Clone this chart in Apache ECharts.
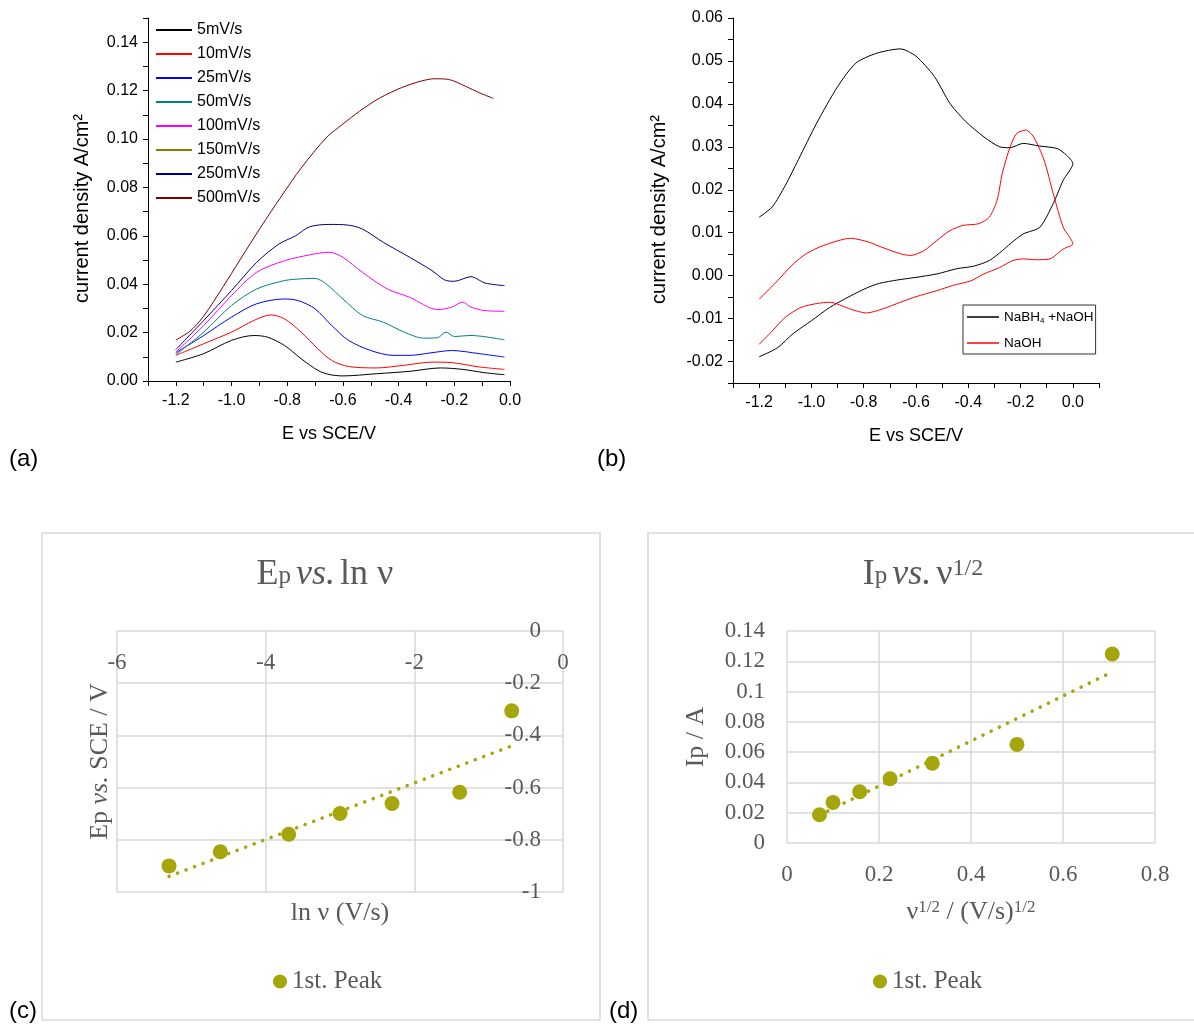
<!DOCTYPE html>
<html>
<head>
<meta charset="utf-8">
<script src="https://cdn.jsdelivr.net/npm/echarts@6/dist/echarts.min.js"></script>
<style>
  html, body { margin: 0; padding: 0; background: #fff; }
  #main { width: 1194px; height: 1025px; }
</style>
</head>
<body>
<div id="main"></div>
<script>
// (a) anodic sweeps at different scan rates, [E / V, j / A cm-2]
const cv5 = [[-1.2,0.0078],[-1.10,0.0113],[-1.0,0.0168],[-0.92,0.0188],[-0.87,0.0181],[-0.81,0.0147],[-0.75,0.0092],[-0.69,0.0044],[-0.65,0.0027],[-0.60,0.0021],[-0.48,0.0030],[-0.36,0.0040],[-0.25,0.0054],[-0.17,0.0048],[-0.09,0.0034],[-0.02,0.0026]];
const cv10 = [[-1.2,0.0106],[-1.10,0.0154],[-1.0,0.0202],[-0.92,0.0250],[-0.86,0.0273],[-0.81,0.0257],[-0.75,0.0202],[-0.69,0.0133],[-0.64,0.0085],[-0.58,0.0060],[-0.48,0.0054],[-0.38,0.0065],[-0.28,0.0078],[-0.21,0.0076],[-0.11,0.0058],[-0.02,0.0048]];
const cv25 = [[-1.2,0.0117],[-1.10,0.0188],[-1.0,0.0264],[-0.91,0.0319],[-0.81,0.0339],[-0.76,0.0332],[-0.70,0.0298],[-0.64,0.0229],[-0.58,0.0168],[-0.50,0.0126],[-0.42,0.0106],[-0.36,0.0106],[-0.28,0.0117],[-0.21,0.0126],[-0.11,0.0113],[-0.02,0.0099]];
const cv50 = [[-1.2,0.0109],[-1.10,0.0202],[-1.0,0.0312],[-0.91,0.0380],[-0.81,0.0415],[-0.75,0.0422],[-0.70,0.0424],[-0.66,0.0401],[-0.60,0.0339],[-0.53,0.0271],[-0.455,0.0243],[-0.38,0.0202],[-0.31,0.0177],[-0.26,0.0179],[-0.23,0.0202],[-0.20,0.0184],[-0.14,0.0188],[-0.02,0.0170]];
const cv100 = [[-1.2,0.0120],[-1.10,0.0229],[-1.0,0.0353],[-0.91,0.0449],[-0.81,0.0497],[-0.72,0.0521],[-0.65,0.0532],[-0.60,0.0511],[-0.53,0.0449],[-0.44,0.0380],[-0.36,0.0346],[-0.26,0.0295],[-0.21,0.0305],[-0.17,0.0326],[-0.14,0.0305],[-0.09,0.0291],[-0.02,0.0288]];
const cv150 = [];
const cv250 = [[-1.2,0.0130],[-1.10,0.0250],[-1.0,0.0374],[-0.91,0.0490],[-0.83,0.0566],[-0.77,0.0600],[-0.72,0.0637],[-0.65,0.0647],[-0.58,0.0644],[-0.53,0.0628],[-0.455,0.0573],[-0.36,0.0511],[-0.28,0.0456],[-0.235,0.0418],[-0.20,0.0412],[-0.14,0.0431],[-0.09,0.0405],[-0.02,0.0394]];
const cv500 = [[-1.2,0.0170],[-1.15,0.0205],[-1.10,0.0268],[-1.03,0.0390],[-0.97,0.0500],[-0.895,0.0636],[-0.82,0.0765],[-0.75,0.0880],[-0.66,0.1005],[-0.60,0.1062],[-0.54,0.1115],[-0.47,0.1168],[-0.39,0.1212],[-0.32,0.1239],[-0.27,0.1249],[-0.22,0.1246],[-0.16,0.1218],[-0.11,0.1191],[-0.06,0.1168]];
const rateNames = ['5mV/s','10mV/s','25mV/s','50mV/s','100mV/s','150mV/s','250mV/s','500mV/s'];
const rateColors = ['#000000','#ff0000','#0000ff','#008080','#ff00ff','#808000','#000080','#800000'];
const rateCurves = [cv5, cv10, cv25, cv50, cv100, cv150, cv250, cv500];

// (b) full cycles
const cvNaBH4 = [[-1.2,0.0136],[-1.15,0.0160],[-1.10,0.0210],[-1.05,0.0270],[-0.98,0.0355],[-0.90,0.0440],[-0.83,0.0495],[-0.75,0.0518],[-0.66,0.0528],[-0.60,0.0511],[-0.53,0.0464],[-0.47,0.0401],[-0.41,0.0359],[-0.34,0.0323],[-0.28,0.0300],[-0.24,0.0298],[-0.19,0.0308],[-0.13,0.0302],[-0.06,0.0296],[-0.025,0.0281],[0.0,0.0261],[-0.037,0.0222],[-0.075,0.0168],[-0.126,0.0113],[-0.19,0.0097],[-0.24,0.0074],[-0.27,0.0058],[-0.32,0.0035],[-0.38,0.0022],[-0.445,0.0016],[-0.52,0.0004],[-0.60,-0.0004],[-0.67,-0.0010],[-0.74,-0.0018],[-0.79,-0.0029],[-0.85,-0.0047],[-0.93,-0.0074],[-1.0,-0.0105],[-1.07,-0.0135],[-1.13,-0.0168],[-1.2,-0.0189]];
const cvNaOH = [[-1.2,-0.0055],[-1.13,-0.0012],[-1.07,0.0027],[-1.02,0.0051],[-0.955,0.0070],[-0.85,0.0087],[-0.78,0.0078],[-0.73,0.0066],[-0.66,0.0051],[-0.62,0.0047],[-0.57,0.0058],[-0.52,0.0082],[-0.47,0.0105],[-0.42,0.0117],[-0.36,0.0121],[-0.32,0.0136],[-0.29,0.0175],[-0.27,0.0238],[-0.24,0.0300],[-0.215,0.0331],[-0.18,0.0339],[-0.15,0.0323],[-0.11,0.0269],[-0.075,0.0191],[-0.037,0.0113],[0.0,0.0074],[-0.037,0.0062],[-0.088,0.0039],[-0.14,0.0037],[-0.19,0.0039],[-0.23,0.0035],[-0.28,0.0019],[-0.34,0.0004],[-0.39,-0.0012],[-0.46,-0.0023],[-0.52,-0.0035],[-0.60,-0.0049],[-0.66,-0.0062],[-0.73,-0.0078],[-0.79,-0.0087],[-0.85,-0.0078],[-0.93,-0.0062],[-0.98,-0.0065],[-1.04,-0.0074],[-1.10,-0.0097],[-1.15,-0.0129],[-1.2,-0.0160]];

// (c) Ep vs ln v, (d) Ip vs v^1/2
const lnRate = [-5.30,-4.61,-3.69,-3.00,-2.30,-1.39,-0.69];
const peakPot = [-0.900,-0.846,-0.779,-0.699,-0.661,-0.618,-0.306];
const fitC = [[-5.30,-0.94],[-0.69,-0.44]];
const sqrtRate = [0.0707,0.100,0.158,0.224,0.316,0.500,0.707];
const peakCur = [0.0187,0.0268,0.0338,0.0424,0.0527,0.0651,0.1248];
const fitD = [[0.0707,0.0184],[0.707,0.113]];

// tick positions
const aTicksX = [-1.3,-1.2,-1.1,-1.0,-0.9,-0.8,-0.7,-0.6,-0.5,-0.4,-0.3,-0.2,-0.1,0.0];
const bTicksX = [-1.3,-1.2,-1.1,-1.0,-0.9,-0.8,-0.7,-0.6,-0.5,-0.4,-0.3,-0.2,-0.1,0.0,0.1];
const labelsX = [-1.2,-1.0,-0.8,-0.6,-0.4,-0.2,0.0];
const aLabelsY = [0,0.02,0.04,0.06,0.08,0.10,0.12,0.14];
const aTicksY = [0,0.01,0.02,0.03,0.04,0.05,0.06,0.07,0.08,0.09,0.10,0.11,0.12,0.13,0.14,0.15];
const bLabelsY = [-0.02,-0.01,0,0.01,0.02,0.03,0.04,0.05,0.06];
const bTicksY = [-0.025,-0.02,-0.015,-0.01,-0.005,0,0.005,0.01,0.015,0.02,0.025,0.03,0.035,0.04,0.045,0.05,0.055,0.06];

const sans = 'Liberation Sans, Arial, sans-serif';
const serif = 'Liberation Serif, Times New Roman, serif';
const gray = '#595959';
const olive = '#a5a50c';
const gridGray = '#d9d9d9';

var myChart = echarts.init(document.getElementById('main'));

// Origin style axes for (a) and (b)
function originX(grid, min, max, ticks, name) {
    return {
        gridIndex: grid, type: 'value', min: min, max: max,
        axisLine: { show: true, onZero: false, lineStyle: { color: '#000', width: 1 } },
        axisTick: { show: true, inside: false, length: 5, customValues: ticks, lineStyle: { color: '#000' } },
        axisLabel: { customValues: labelsX, formatter: v => v.toFixed(1), margin: 12, fontSize: 16, color: '#000', fontFamily: sans },
        splitLine: { show: false },
        name: name, nameLocation: 'middle', nameGap: 44,
        nameTextStyle: { fontSize: 18, color: '#000', fontFamily: sans }
    };
}
function originY(grid, min, max, labels, ticks, gap) {
    return {
        gridIndex: grid, type: 'value', min: min, max: max,
        axisLine: { show: true, onZero: false, lineStyle: { color: '#000', width: 1 } },
        axisTick: { show: true, inside: false, length: 5, customValues: ticks, lineStyle: { color: '#000' } },
        axisLabel: { customValues: labels, formatter: v => v.toFixed(2), margin: 10, fontSize: 16, color: '#000', fontFamily: sans },
        splitLine: { show: false },
        name: 'current density A/cm²', nameLocation: 'middle', nameGap: gap,
        nameTextStyle: { fontSize: 20, color: '#000', fontFamily: sans, padding: [0, 18, 0, 0] }
    };
}

const excelRich = {
    n: { fontFamily: serif, fontSize: 26, color: gray, fontWeight: 'normal' },
    i: { fontFamily: serif, fontSize: 26, color: gray, fontWeight: 'normal', fontStyle: 'italic' },
    s: { fontFamily: serif, fontSize: 17, color: gray, fontWeight: 'normal', verticalAlign: 'top' }
};
const titleRich = {
    n: { fontFamily: serif, fontSize: 36, color: gray, fontWeight: 'normal' },
    i: { fontFamily: serif, fontSize: 36, color: gray, fontWeight: 'normal', fontStyle: 'italic' },
    b: { fontFamily: serif, fontSize: 25, color: gray, fontWeight: 'normal', verticalAlign: 'bottom', padding: [0, 0, 4, 0] },
    s: { fontFamily: serif, fontSize: 24, color: gray, fontWeight: 'normal', verticalAlign: 'top' }
};
const excelLabel = { fontFamily: serif, fontSize: 23, color: gray };
const hidden = { show: false };

const series = rateCurves.map((d, i) => ({
    name: rateNames[i], type: 'line', xAxisIndex: 0, yAxisIndex: 0,
    data: d, symbol: 'none', smooth: 0.3,
    lineStyle: { color: rateColors[i], width: 1 }, itemStyle: { color: rateColors[i] }
}));
series.push(
    { name: 'NaBH4 +NaOH', type: 'line', xAxisIndex: 1, yAxisIndex: 1, data: cvNaBH4, symbol: 'none', smooth: 0.25,
      lineStyle: { color: '#000', width: 1 }, itemStyle: { color: '#000' } },
    { name: 'NaOH', type: 'line', xAxisIndex: 1, yAxisIndex: 1, data: cvNaOH, symbol: 'none', smooth: 0.25,
      lineStyle: { color: '#ff0000', width: 1 }, itemStyle: { color: '#ff0000' } },
    { name: 'trend c', type: 'line', xAxisIndex: 2, yAxisIndex: 2, data: fitC, symbol: 'none',
      lineStyle: { color: olive, width: 3.5, type: [0.1, 9], cap: 'round' }, z: 2 },
    { name: '1st. Peak', type: 'scatter', xAxisIndex: 2, yAxisIndex: 2,
      data: lnRate.map((x, i) => [x, peakPot[i]]), symbolSize: 15, itemStyle: { color: olive, opacity: 1 }, z: 3 },
    { name: 'trend d', type: 'line', xAxisIndex: 4, yAxisIndex: 4, data: fitD, symbol: 'none',
      lineStyle: { color: olive, width: 3.5, type: [0.1, 9], cap: 'round' }, z: 2 },
    { name: '1st. Peak', type: 'scatter', xAxisIndex: 4, yAxisIndex: 4,
      data: sqrtRate.map((x, i) => [x, peakCur[i]]), symbolSize: 15, itemStyle: { color: olive, opacity: 1 }, z: 3 }
);

const option = {
    animation: false,
    backgroundColor: '#fff',
    grid: [
        { left: 148, top: 18, width: 362, height: 363, outerBoundsMode: 'none' },
        { left: 733, top: 18, width: 366, height: 365, outerBoundsMode: 'none' },
        { left: 117, top: 631, width: 446, height: 261, outerBoundsMode: 'none' },
        { left: 787, top: 631, width: 368, height: 212, outerBoundsMode: 'none' }
    ],
    xAxis: [
        originX(0, -1.3, 0, aTicksX, 'E vs SCE/V'),
        originX(1, -1.3, 0.1, bTicksX, 'E vs SCE/V'),
        {
            gridIndex: 2, type: 'value', min: -6, max: 0, interval: 2, position: 'top',
            axisLine: { show: false, onZero: false }, axisTick: hidden,
            axisLabel: Object.assign({ inside: true, margin: 20 }, excelLabel),
            splitLine: { show: true, lineStyle: { color: gridGray, width: 1.5 } }
        },
        {
            gridIndex: 2, type: 'value', min: -6, max: 0, position: 'bottom',
            axisLine: { show: false, onZero: false }, axisTick: hidden, axisLabel: hidden, splitLine: hidden,
            name: '{n|ln ν (V/s)}', nameLocation: 'middle', nameGap: 8,
            nameTextStyle: { rich: excelRich }
        },
        {
            gridIndex: 3, type: 'value', min: 0, max: 0.8, interval: 0.2,
            axisLine: { show: false, onZero: false }, axisTick: hidden,
            axisLabel: Object.assign({ margin: 20 }, excelLabel),
            splitLine: { show: true, lineStyle: { color: gridGray, width: 1.5 } },
            name: '{n|ν}{s|1/2}{n| / (V/s)}{s|1/2}', nameLocation: 'middle', nameGap: 56,
            nameTextStyle: { rich: excelRich }
        }
    ],
    yAxis: [
        originY(0, 0, 0.15, aLabelsY, aTicksY, 56),
        originY(1, -0.025, 0.06, bLabelsY, bTicksY, 64),
        {
            gridIndex: 2, type: 'value', min: -1, max: 0, interval: 0.2, position: 'right',
            axisLine: { show: false, onZero: false }, axisTick: hidden,
            axisLabel: Object.assign({ inside: true, margin: 22 }, excelLabel),
            splitLine: { show: true, lineStyle: { color: gridGray, width: 1.5 } }
        },
        {
            gridIndex: 2, type: 'value', min: -1, max: 0, position: 'left',
            axisLine: { show: false, onZero: false }, axisTick: hidden, axisLabel: hidden, splitLine: hidden,
            name: '{n|Ep }{i|vs.}{n| SCE / V}', nameLocation: 'middle', nameGap: 4,
            nameTextStyle: { rich: excelRich }
        },
        {
            gridIndex: 3, type: 'value', min: 0, max: 0.14, interval: 0.02,
            axisLine: { show: false, onZero: false }, axisTick: hidden,
            axisLabel: Object.assign({ margin: 22 }, excelLabel),
            splitLine: { show: true, lineStyle: { color: gridGray, width: 1.5 } },
            name: '{n|Ip / A}', nameLocation: 'middle', nameGap: 78,
            nameTextStyle: { rich: excelRich }
        }
    ],
    title: [
        { text: '{n|E}{b|p} {i|vs.} {n|ln ν}', left: 325, top: 557, textAlign: 'center', padding: 0,
          textStyle: { fontWeight: 'normal', rich: titleRich } },
        { text: '{n|I}{b|p} {i|vs.} {n|ν}{s|1/2}', left: 923, top: 557, textAlign: 'center', padding: 0,
          textStyle: { fontWeight: 'normal', rich: titleRich } }
    ],
    legend: [
        { data: rateNames, orient: 'vertical', left: 156, top: 22, padding: 0,
          icon: 'rect', itemWidth: 36, itemHeight: 2, itemGap: 8,
          textStyle: { fontSize: 16, lineHeight: 16, color: '#000', fontFamily: sans } },
        { data: ['NaBH4 +NaOH', 'NaOH'], orient: 'vertical', left: 963, top: 305,
          padding: [4, 2, 3, 4], borderColor: '#333', borderWidth: 1,
          icon: 'rect', itemWidth: 32, itemHeight: 1.5, itemGap: 10, align: 'left',
          formatter: n => n === 'NaOH' ? '{n|NaOH}' : '{n|NaBH}{b|4}{n| +NaOH}',
          textStyle: { fontSize: 13.5, lineHeight: 16, color: '#000', fontFamily: sans,
              rich: { n: { fontSize: 13.5, fontFamily: sans, color: '#000' },
                      b: { fontSize: 8, fontFamily: sans, color: '#000', verticalAlign: 'bottom' } } } },
        { data: ['1st. Peak'], left: 273, top: 969, padding: 0, itemWidth: 14, itemHeight: 14,
          itemStyle: { opacity: 1 },
          textStyle: { fontSize: 25, color: gray, fontFamily: serif } },
        { data: ['1st. Peak'], left: 873, top: 969, padding: 0, itemWidth: 14, itemHeight: 14,
          itemStyle: { opacity: 1 },
          textStyle: { fontSize: 25, color: gray, fontFamily: serif } }
    ],
    graphic: [
        { type: 'rect', shape: { x: 42, y: 533, width: 558, height: 487 }, style: { fill: 'none', stroke: gridGray, lineWidth: 1.5 }, z: -1 },
        { type: 'rect', shape: { x: 648, y: 533, width: 560, height: 487 }, style: { fill: 'none', stroke: gridGray, lineWidth: 1.5 }, z: -1 },
        { type: 'text', left: 9, top: 447, style: { text: '(a)', fontSize: 24, fontFamily: sans, fill: '#000' } },
        { type: 'text', left: 597, top: 447, style: { text: '(b)', fontSize: 24, fontFamily: sans, fill: '#000' } },
        { type: 'text', left: 9, top: 999, style: { text: '(c)', fontSize: 24, fontFamily: sans, fill: '#000' } },
        { type: 'text', left: 609, top: 999, style: { text: '(d)', fontSize: 24, fontFamily: sans, fill: '#000' } }
    ],
    series: series
};
myChart.setOption(option);
</script>
</body>
</html>
